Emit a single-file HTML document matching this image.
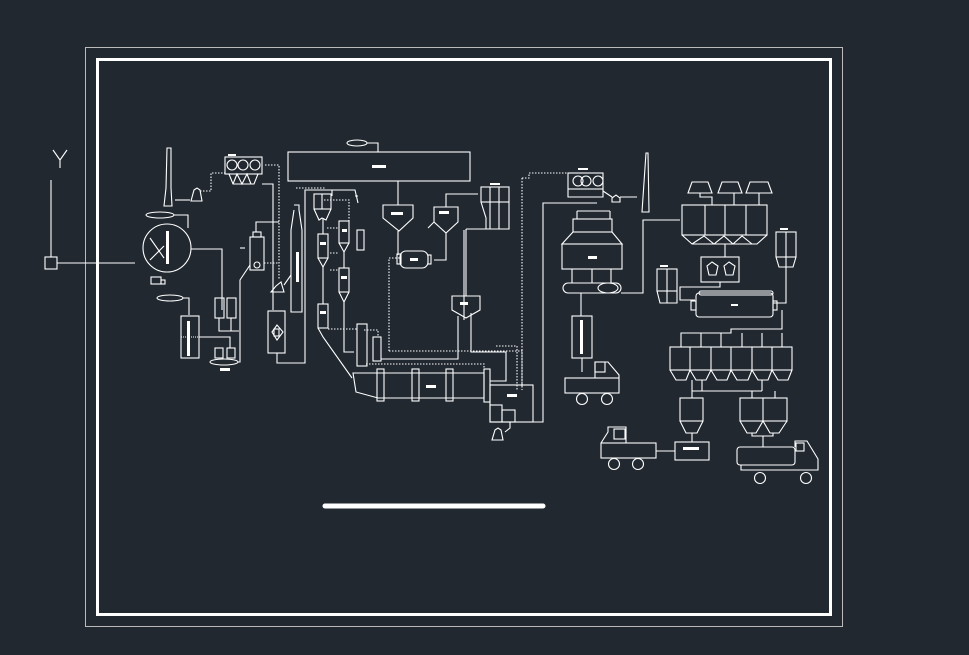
<!DOCTYPE html>
<html><head><meta charset="utf-8"><style>
html,body{margin:0;padding:0;background:#212830;}
svg{display:block}
text{font-family:"Liberation Sans","Noto Sans CJK SC",sans-serif;fill:#fff;font-size:4px;font-weight:bold}
</style></head><body>
<svg width="969" height="655" viewBox="0 0 969 655" xmlns="http://www.w3.org/2000/svg">
<rect width="969" height="655" fill="#212830"/>
<g fill="none" stroke="#fff" stroke-width="1.1">
<rect x="85.5" y="47.5" width="757" height="579" stroke="#bbb" stroke-width="1"/>
<rect x="97.5" y="59.5" width="733" height="555" stroke-width="3"/>
<line x1="325" y1="506" x2="543" y2="506" stroke-width="5" stroke-linecap="round"/>
<!-- left symbol -->
<path d="M53 150 L60 160 L67 150 M60 160 V168"/>
<path d="M51 180 V257"/><rect x="45" y="257" width="12" height="12"/><path d="M57 263 H135"/>
<!-- chimney left -->
<path d="M167 148 H171 V188 L172 206 H164 L166 188 Z"/>
<path d="M175 200 H190"/><path d="M194 190 L197 188 L200 190 L202 201 H191 Z"/>
<path d="M200 191 H211 V173 H225" stroke-dasharray="1.5 1.5"/>
<!-- baghouse left -->
<rect x="225" y="157" width="37" height="17"/><path d="M229 174 L233 184 H254 L258 174"/><path d="M233 184 L237 174 L242 184 L247 174 L251 184"/>
<circle cx="232" cy="165" r="5"/><circle cx="243" cy="165" r="5"/><circle cx="255" cy="165" r="5"/>
<path d="M265 165 H279 V280" stroke-dasharray="1.5 1.5"/>
<path d="M262 185 V185 M262 184 H273 V310"/>
<!-- circle stacker -->
<ellipse cx="160" cy="215" rx="14" ry="3"/><path d="M174 215 H188 V228"/>
<circle cx="167" cy="248" r="24"/><path d="M150 238 L164 258 M150 260 L164 246"/>
<path d="M191 249 H222 V310"/>
<rect x="151" y="277" width="10" height="7"/><rect x="161" y="280" width="4" height="4"/>
<ellipse cx="170" cy="298" rx="13" ry="3"/><path d="M183 298 H189 V315"/>
<rect x="181" y="316" width="18" height="42"/><path d="M181 337 H199" stroke-dasharray="1 1"/>
<path d="M199 337 H230 V348"/>
<rect x="215" y="298" width="9" height="20"/><rect x="227" y="298" width="9" height="20"/>
<path d="M219 318 V331 H239"/><path d="M231 318 V331"/>
<rect x="215" y="348" width="8" height="10"/><rect x="227" y="348" width="8" height="10"/>
<ellipse cx="224" cy="362" rx="14" ry="3"/>
<path d="M238 362 H240 V280 L250 265"/>
<path d="M240 248 H245"/>
<rect x="250" y="237" width="14" height="33"/><rect x="253" y="232" width="8" height="5"/><circle cx="257" cy="265" r="3"/>
<path d="M256 232 V222 H279"/><path d="M264 263 H279" stroke-dasharray="1.5 1.5"/>
<!-- column -->
<rect x="268" y="311" width="17" height="42"/><path d="M272 332 L277 325 L283 332 L277 340 Z"/><rect x="274" y="329" width="5" height="7"/>
<path d="M277 353 V363 H305 V190 H355 L358 203 M355 196 H358"/>
<path d="M276 286 L281 282 L284 292 H271 Z"/><path d="M284 285 L291 275"/>
<path d="M294 205 H299 V210 L302 230 V312 H291 V230 L294 210"/>
<path d="M296 188 H326" stroke-dasharray="1.5 1.5"/>
<!-- big box -->
<rect x="288" y="152" width="182" height="29"/>
<ellipse cx="357" cy="143" rx="10" ry="3"/><path d="M367 143 H378 V152"/>
<!-- cyclones -->
<rect x="314" y="194" width="17" height="15"/><path d="M322 194 V209"/><path d="M314 209 L319 220 L322 218 L326 220 L331 209"/>
<path d="M323 218 V234"/><rect x="318" y="234" width="10" height="24"/><path d="M318 258 L323 267 L328 258"/>
<path d="M323 267 V304"/><rect x="318" y="304" width="10" height="24"/><path d="M318 328 L323 337 L352 378"/>
<rect x="339" y="221" width="10" height="22"/><path d="M339 243 L344 252 L349 243"/>
<path d="M344 252 V268"/><rect x="339" y="268" width="10" height="24"/><path d="M339 292 L344 302 L349 292"/>
<path d="M344 302 V352 H354"/>
<rect x="357" y="230" width="7" height="20"/>
<rect x="357" y="324" width="10" height="42"/><rect x="373" y="337" width="8" height="24"/>
<path d="M332 196 V190" />
<path d="M324 200 H349 V222" stroke-dasharray="1.5 1.5"/>
<path d="M327 228 H339 M330 253 H339 M330 270 H339 M328 329 H357 M364 330 H378 V337" stroke-dasharray="1.5 1.5"/>
<path d="M366 364 H484 V372" stroke-dasharray="1.5 1.5"/>
<path d="M381 359 H458 V316"/>
<!-- kiln -->
<path d="M353 373 H484 V398 H378 L356 392 Z"/>
<rect x="377" y="369" width="7" height="32"/><rect x="412" y="369" width="7" height="32"/><rect x="446" y="369" width="7" height="32"/>
<rect x="484" y="369" width="6" height="33"/>
<rect x="490" y="385" width="43" height="37"/><rect x="490" y="405" width="12" height="17"/><rect x="502" y="410" width="13" height="12"/>
<path d="M510 422 V428 L505 432"/><path d="M495 430 L498 428 L501 430 L503 440 H492 Z"/>
<path d="M490 381 H506 V352 H471 V313 M464 230 V320" />
<path d="M533 422 H543 V203 H597"/>
<path d="M389 351 V258 H400" stroke-dasharray="1.5 1.5"/>
<path d="M389 351 H522 V390 M522 178 V386 M522 178 H529 V173 H568" stroke-dasharray="1.5 1.5"/>
<path d="M517 346 V390 M496 346 H517" stroke-dasharray="1.5 1.5"/>
<!-- hoppers -->
<path d="M398 181 V205"/><path d="M383 205 H413 V218 L399 231 L383 218 Z"/><path d="M398 231 V255"/>
<path d="M434 207 H458 V222 L446 233 L434 222 Z"/><path d="M446 233 V260 H434 M446 207 V194 H478"/>
<path d="M434 222 L428 228"/>
<rect x="400" y="251" width="28" height="17" rx="6"/><rect x="397" y="254" width="4" height="10"/><rect x="428" y="255" width="3" height="9"/>
<rect x="481" y="187" width="28" height="15"/><path d="M490 187 V229 M499 187 V229 M481 202 L486 218 V229 H509 V218 L509 202"/>
<path d="M466 229 H493 M466 229 V296"/>
<path d="M452 296 H480 V310 L466 318 L452 310 Z"/>
<!-- right baghouse / chimney -->
<rect x="568" y="173" width="35" height="16"/><circle cx="578" cy="181" r="5"/><circle cx="586" cy="181" r="5"/><circle cx="598" cy="181" r="5"/><path d="M568 189 V197 H603 V189"/>
<path d="M603 191 L612 197"/><path d="M612 198 L616 195 L620 198 V202 H612 Z"/><path d="M620 197 H637"/>
<path d="M646 153 H648 L649 212 H642 Z"/>
<!-- separator mill -->
<path d="M577 211 H610 M577 211 V219 M610 211 V219"/><rect x="573" y="219" width="39" height="13"/>
<path d="M573 232 L562 244 H622 L612 232"/><rect x="562" y="244" width="60" height="25"/>
<path d="M572 269 V283 M592 269 V283 M611 269 V283"/>
<path d="M568 283 H616 A5 5 0 0 1 616 293 H568 A5 5 0 0 1 568 283 Z"/><ellipse cx="608" cy="288" rx="10" ry="5"/>
<path d="M621 293 H643 V220 H680"/>
<path d="M581 293 V316"/><rect x="572" y="316" width="20" height="42"/><path d="M582 358 V372"/>
<!-- truck middle -->
<rect x="565" y="378" width="54" height="15"/><path d="M595 378 V362 H608 L619 375 V378"/><rect x="595" y="362" width="10" height="10"/>
<circle cx="582" cy="399" r="5.5"/><circle cx="607" cy="399" r="5.5"/>
<!-- silos top right -->
<path d="M688 193 H712 L708 182 H692 Z M718 193 H742 L738 182 H722 Z M746 193 H772 L768 182 H750 Z"/>
<path d="M700 193 V197 H712 V205 M734 193 V205 M759 193 V205"/>
<rect x="682" y="205" width="85" height="30"/><path d="M705 205 V235 M725 205 V235 M746 205 V235"/>
<path d="M682 235 L692 244 H757 L767 235"/><path d="M692 244 L704 236 L714 244 L724 236 L733 244 L742 236 L752 244"/>
<path d="M725 244 V257"/><rect x="701" y="257" width="38" height="25"/>
<path d="M712 262 L718 266 L716 275 H709 L707 266 Z M729 262 L735 266 L733 275 H726 L724 266 Z"/>
<path d="M720 282 V287 H680 V300 H695"/>
<rect x="657" y="269" width="20" height="22"/><path d="M667 269 V303 M657 291 L660 303 H677 L677 291"/>
<rect x="776" y="232" width="20" height="25"/><path d="M786 232 V267 M776 257 L779 267 H793 L796 257 M786 267 V303 H773"/>
<rect x="696" y="293" width="77" height="24" rx="3"/><rect x="699" y="291" width="74" height="4" rx="2"/>
<rect x="691" y="301" width="5" height="9"/><rect x="773" y="301" width="4" height="9"/>
<path d="M782 310 V329 H731 V333 H681 V347 M681 333 V347 M701 333 V347 M721 333 V347 M742 333 V347 M762 333 V347 M782 333 V347"/>
<rect x="670" y="347" width="122" height="23"/>
<path d="M690 347 V370 M711 347 V370 M731 347 V370 M752 347 V370 M772 347 V370"/>
<path d="M670 370 L676 380 H686 L690 370 L696 380 H706 L711 370 L717 380 H727 L731 370 L737 380 H748 L752 370 L758 380 H768 L772 370 L778 380 H788 L792 370"/>
<path d="M692 380 V391 H762 M702 380 V391 M762 380 V391 M692 391 V398 M752 391 V398 M775 391 V398"/>
<rect x="680" y="398" width="23" height="23"/><path d="M680 421 L686 433 H697 L703 421 M692 433 V442"/>
<rect x="740" y="398" width="47" height="23"/><path d="M763 398 V421 M740 421 L747 433 H756 L763 421 L770 433 H779 L787 421 M752 433 V436 H773 V433 M763 436 V447"/>
<rect x="675" y="442" width="34" height="18"/><path d="M675 451 H656"/>
<!-- truck bottom left -->
<rect x="601" y="443" width="55" height="15"/><path d="M601 443 L608 432 V427 H626 V443"/><rect x="614" y="429" width="11" height="10"/>
<circle cx="614" cy="464" r="5.5"/><circle cx="638" cy="464" r="5.5"/>
<!-- truck bottom right -->
<rect x="737" y="447" width="58" height="18" rx="3"/><path d="M795 447 V441 H807 L818 459 V470 H741 V465"/><rect x="796" y="443" width="8" height="8"/>
<circle cx="760" cy="478" r="5.5"/><circle cx="806" cy="478" r="5.5"/>
</g>
<g fill="#fff">
<rect x="228" y="154" width="8" height="2"/><rect x="372" y="165" width="14" height="3"/><rect x="391" y="212" width="12" height="3"/><rect x="439" y="211" width="10" height="3"/><rect x="490" y="183" width="10" height="2"/>
<rect x="410" y="258" width="8" height="3"/><rect x="426" y="385" width="10" height="3"/><rect x="507" y="394" width="10" height="3"/><rect x="460" y="302" width="8" height="3"/>
<rect x="166" y="231" width="3" height="33"/><rect x="187" y="321" width="3" height="35"/><rect x="296" y="252" width="3" height="30"/>
<rect x="320" y="242" width="6" height="3"/><rect x="320" y="311" width="6" height="3"/><rect x="341" y="276" width="6" height="3"/><rect x="342" y="229" width="5" height="3"/>
<rect x="588" y="256" width="9" height="3"/><rect x="580" y="320" width="3" height="34"/><rect x="731" y="304" width="7" height="2"/><rect x="683" y="447" width="16" height="3"/>
<rect x="578" y="168" width="10" height="2"/><rect x="780" y="228" width="8" height="2"/><rect x="660" y="265" width="8" height="2"/>
<rect x="220" y="368" width="10" height="3"/>
</g>
</svg>
</body></html>
